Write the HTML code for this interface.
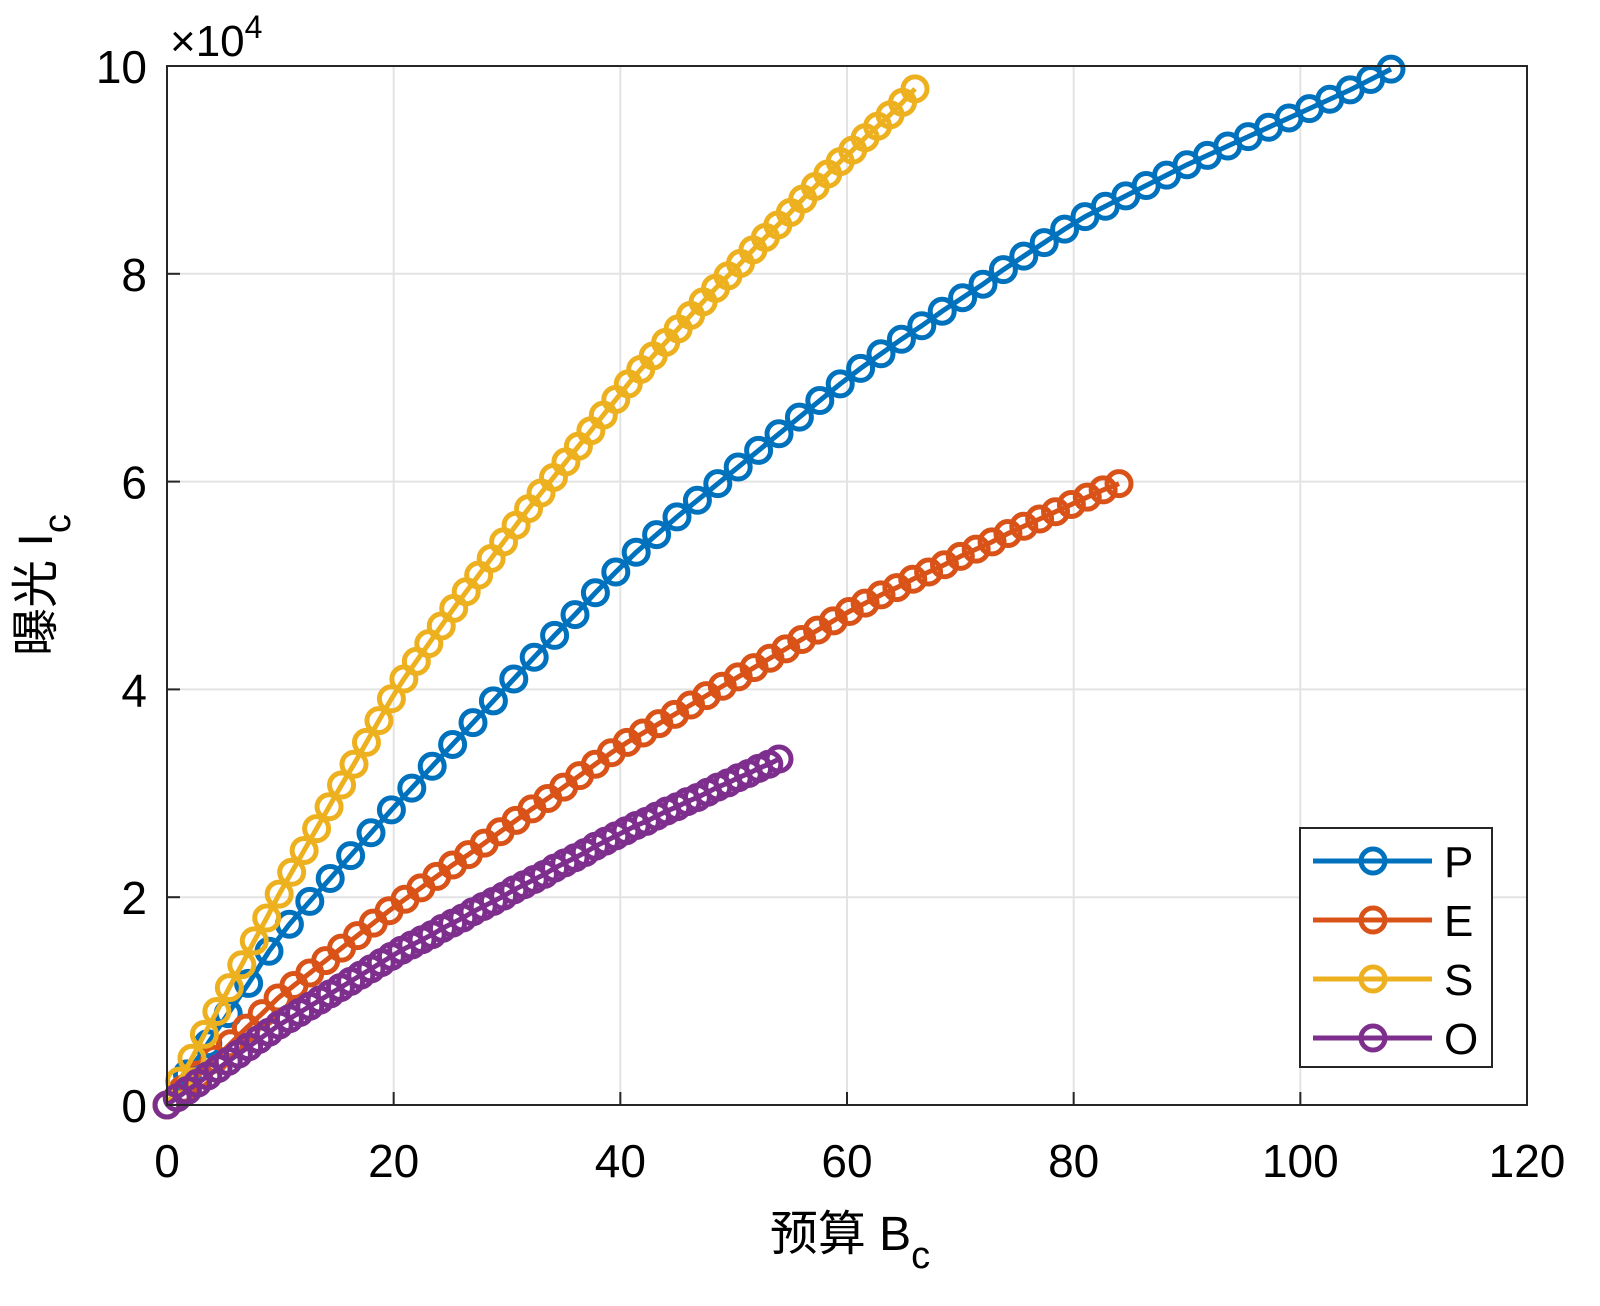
<!DOCTYPE html>
<html><head><meta charset="utf-8"><style>
html,body{margin:0;padding:0;background:#fff;}
svg text{font-family:"Liberation Sans","Noto Sans CJK SC",sans-serif;fill:#000;}
</style></head><body>
<svg id="chart" width="1600" height="1301" viewBox="0 0 1600 1301" xmlns="http://www.w3.org/2000/svg">
<g id="grid"></g>
<g id="series"></g>
<rect x="167" y="66" width="1360" height="1039" fill="none" stroke="#262626" stroke-width="2"/>
<g id="ticks"></g>
<text x="170" y="56" font-size="44">×10<tspan font-size="32" dy="-18">4</tspan></text>
<text x="850" y="1250" font-size="48" text-anchor="middle">预算 B<tspan font-size="38" dy="18">c</tspan></text>
<text transform="translate(52,585) rotate(-90)" font-size="48" text-anchor="middle">曝光 I<tspan font-size="38" dy="18">c</tspan></text>
<g id="legend"></g>
</svg>
<script>
const seriesNames = ["P","E","S","O"];
const seriesColors = ["#0072BD","#D95319","#EDB120","#7E2F8E"];
const seriesMaxBudget = [108, 84, 66, 54];
const xTicks = [0,20,40,60,80,100,120];
const yTicks = [0,2,4,6,8,10];
const pValues = [0,0.30,0.59,0.88,1.17,1.48,1.74,1.96,2.18,2.40,2.62,2.84,3.05,3.26,3.47,3.68,3.89,4.10,4.31,4.52,4.72,4.93,5.13,5.32,5.49,5.66,5.82,5.98,6.14,6.30,6.46,6.62,6.78,6.94,7.09,7.23,7.37,7.50,7.64,7.77,7.90,8.04,8.17,8.30,8.43,8.55,8.65,8.75,8.85,8.95,9.05,9.14,9.23,9.32,9.41,9.50,9.59,9.68,9.77,9.87,9.97];
const eValues = [0,0.15,0.29,0.44,0.59,0.74,0.88,1.03,1.15,1.27,1.39,1.51,1.63,1.75,1.87,1.98,2.09,2.20,2.31,2.41,2.52,2.63,2.74,2.85,2.95,3.06,3.17,3.28,3.39,3.49,3.58,3.67,3.76,3.85,3.94,4.03,4.12,4.21,4.30,4.39,4.48,4.57,4.66,4.75,4.83,4.91,4.98,5.06,5.13,5.20,5.28,5.35,5.42,5.50,5.57,5.64,5.71,5.78,5.85,5.92,5.98];
const sValues = [0,0.23,0.45,0.68,0.90,1.13,1.35,1.58,1.80,2.03,2.24,2.45,2.66,2.87,3.08,3.28,3.49,3.70,3.91,4.10,4.27,4.44,4.61,4.78,4.94,5.10,5.26,5.42,5.58,5.74,5.89,6.04,6.19,6.34,6.49,6.64,6.79,6.94,7.08,7.21,7.34,7.47,7.60,7.73,7.86,7.98,8.10,8.23,8.35,8.47,8.59,8.72,8.84,8.96,9.08,9.19,9.31,9.42,9.53,9.65,9.78];
const oValues = [0,0.07,0.14,0.21,0.28,0.35,0.42,0.49,0.56,0.63,0.70,0.77,0.83,0.89,0.95,1.01,1.07,1.13,1.19,1.25,1.31,1.37,1.43,1.49,1.54,1.59,1.64,1.70,1.75,1.80,1.86,1.91,1.96,2.01,2.07,2.12,2.17,2.22,2.28,2.33,2.38,2.43,2.49,2.54,2.59,2.64,2.69,2.73,2.78,2.83,2.87,2.92,2.96,3.01,3.06,3.10,3.15,3.19,3.24,3.28,3.33];
const allValues = [pValues,eValues,sValues,oValues];

const NS="http://www.w3.org/2000/svg";
const L=167,R=1527,T=66,B=1105;
function xs(v){return L+(v-0)/(120-0)*(R-L);}
function ys(v){return B-(v-0)/(10-0)*(B-T);}
function mk(tag,attrs,parent){const e=document.createElementNS(NS,tag);for(const k in attrs)e.setAttribute(k,attrs[k]);parent.appendChild(e);return e;}

const grid=document.getElementById('grid'), ticks=document.getElementById('ticks');
xTicks.forEach(t=>{
  const x=xs(t);
  if(t>0&&t<120){const g=mk('line',{x1:x,x2:x,y1:T,y2:B,stroke:'#e3e3e3','stroke-width':2},grid);
  
  }
  const tk=mk('line',{x1:x,x2:x,y1:B,y2:B-13,stroke:'#262626','stroke-width':2},ticks);
  
  
  const lb=mk('text',{x:x,y:B+72,'font-size':46,'text-anchor':'middle'},ticks);
  lb.textContent=t;
  
  
});
yTicks.forEach(t=>{
  const y=ys(t);
  if(t>0&&t<10){const g=mk('line',{x1:L,x2:R,y1:y,y2:y,stroke:'#e3e3e3','stroke-width':2},grid);
  
  }
  const tk=mk('line',{x1:L,x2:L+13,y1:y,y2:y,stroke:'#262626','stroke-width':2},ticks);
  
  
  const lb=mk('text',{x:L-20,y:y+17,'font-size':46,'text-anchor':'end'},ticks);
  lb.textContent=t;
  
  
});

const sg=document.getElementById('series');
allValues.forEach((vals,si)=>{
  const g=mk('g',{},sg);
  
  
  const n=vals.length-1;
  const pts=vals.map((v,i)=>[xs(seriesMaxBudget[si]*i/n),ys(v)]);
  const pl=mk('polyline',{points:pts.map(p=>p.join(',')).join(' '),fill:'none',stroke:seriesColors[si],'stroke-width':5},g);
  
  
  pts.forEach(p=>{
    const c=mk('circle',{cx:p[0],cy:p[1],r:12,fill:'none',stroke:seriesColors[si],'stroke-width':5},g);
    
    
  });
});

const lg=document.getElementById('legend');
const box=mk('rect',{x:1300,y:828,width:192,height:239,fill:'#fff',stroke:'#262626','stroke-width':2},lg);


seriesNames.forEach((nm,i)=>{
  const y=861+i*59;
  const g=mk('g',{},lg);
  
  
  mk('line',{x1:1313,x2:1432,y1:y,y2:y,stroke:seriesColors[i],'stroke-width':5},g);
  mk('circle',{cx:1373,cy:y,r:12,fill:'none',stroke:seriesColors[i],'stroke-width':5},g);
  const t=mk('text',{x:1444,y:y+16,'font-size':44},g);
  t.textContent=nm;
});
</script>
</body></html>
